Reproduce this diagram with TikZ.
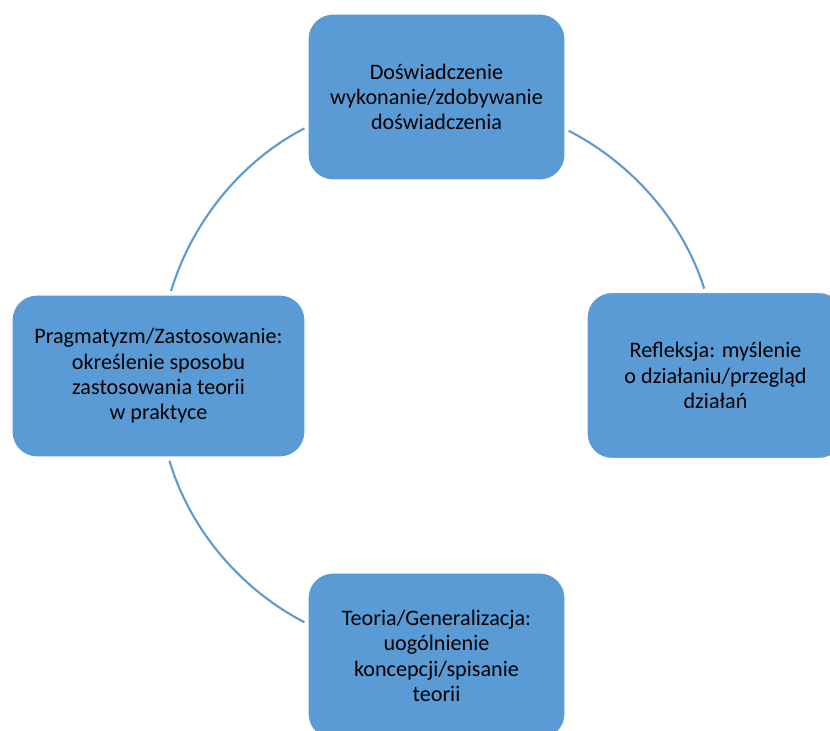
\documentclass[tikz,border=0pt]{standalone}
\usepackage{fontspec}
\setmainfont{Carlito}
\usepackage{tikz}
\usetikzlibrary{arrows.meta, positioning}
\definecolor{boxblue}{HTML}{5B9BD5}

\begin{document}
\begin{tikzpicture}[
    stage/.style={rectangle, draw=white, line width=0.6pt, fill=boxblue, rounded corners=0.5cm, align=center, minimum width=5.14cm, minimum height=3.32cm, inner sep=0pt, font=\fontsize{12.6}{14.4}\selectfont},
    widestage/.style={stage, minimum width=5.86cm, minimum height=3.24cm},
    link/.style={draw=boxblue, line width=1.2pt, looseness=0.89, shorten >=2pt, shorten <=2pt}
]
\useasboundingbox (0,0) rectangle (16.6,-14.62);

% Stages of the cycle
\node[stage] (exp) at (8.73, -1.94) {Doświadczenie\\wykonanie/zdobywanie\\doświadczenia};
\node[stage] (refl) at (14.31, -7.51) {Refleksja: myślenie\\o działaniu/przegląd\\działań};
\node[widestage] (prag) at (3.17, -7.52) {Pragmatyzm/Zastosowanie:\\określenie sposobu\\zastosowania teorii\\w praktyce};
\node[stage] (theo) at (8.73, -13.12) {Teoria/Generalizacja:\\uogólnienie\\koncepcji/spisanie\\teorii};

% Arcs between stages (parts of one circle)
\draw[link] (refl.97.9) to[out=107.5, in=332.8] (exp.346.4);
\draw[link] (exp.193.6) to[out=207.4, in=73] (prag.82.6);
\draw[link] (prag.277.4) to[out=286.6, in=152.6] (theo.166.6);

\end{tikzpicture}
\end{document}
